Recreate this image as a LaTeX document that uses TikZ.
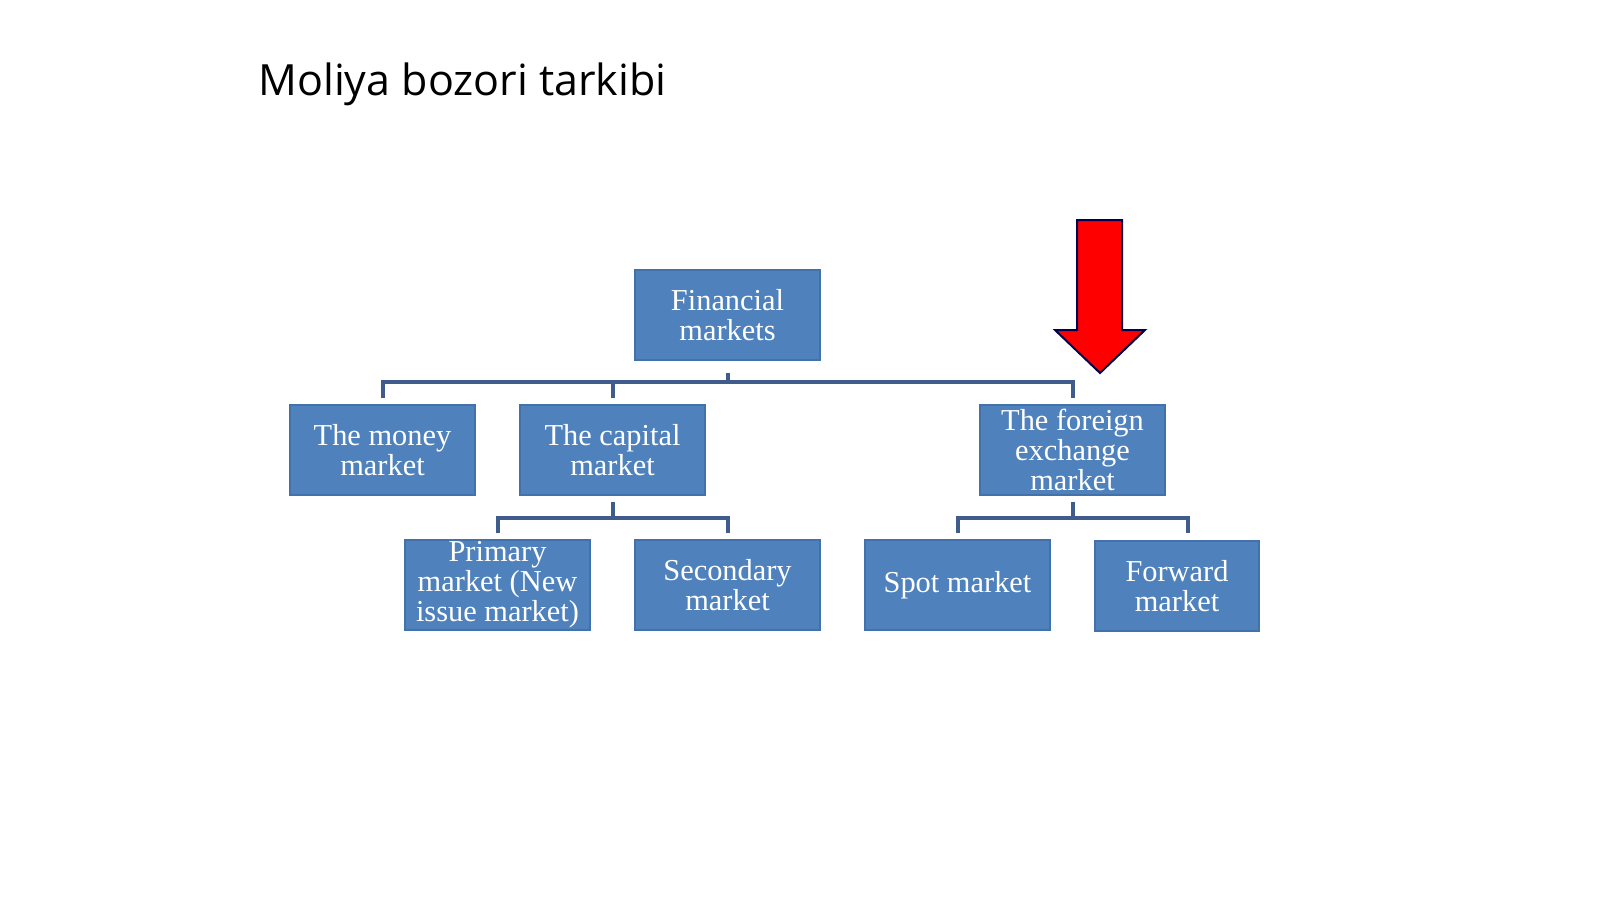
\documentclass[tikz,border=0pt]{standalone}
\usepackage{fontspec}
\setmainfont{Liberation Serif}
\newfontfamily\titlefont{Open Sans}
\begin{document}
\begin{tikzpicture}[x=0.5pt,y=-0.5pt,
  box/.style={draw=boxedge,line width=0.6pt,fill=boxblue,text=white,minimum width=92.5pt,minimum height=45pt,inner sep=0pt,align=center,font=\fontsize{15.2}{15}\selectfont},
  conn/.style={draw=linecol,line width=2pt}]
\definecolor{boxblue}{HTML}{4F81BD}
\definecolor{boxedge}{HTML}{4372AA}
\definecolor{linecol}{HTML}{3F5C8C}
\definecolor{arrowred}{HTML}{FF0000}
\useasboundingbox (0,0) rectangle (1600,899);
\fill[white] (0,0) rectangle (1600,899);
\node[anchor=base west,inner sep=0pt,font=\titlefont\fontsize{21.5}{26}\selectfont] (title) at (258,96) {Moliya bozori tarkibi};
\node[box] (fin) at (727.5,315) {Financial\\markets};
\node[box] (money) at (382.5,450) {The money\\market};
\node[box] (cap) at (612.5,450) {The capital\\market};
\node[box] (fx) at (1072.5,450) {The foreign\\exchange\\market};
\node[box] (prim) at (497.5,585) {Primary\\market (New\\issue market)};
\node[box] (sec) at (727.5,585) {Secondary\\market};
\node[box] (spot) at (957.5,585) {Spot market};
\node[box,minimum width=82pt] (fwd) at (1177,586) {Forward\\market};
% connectors level 1
\coordinate (b1) at (727.5,382);
\draw[conn] ([yshift=-6pt]fin.south) -- (b1);
\draw[conn] ([yshift=3pt]money.north) |- (b1) -| ([yshift=3pt]fx.north);
\draw[conn] ([yshift=3pt]cap.north) -- (cap.north |- b1);
% connectors level 2
\coordinate (b2) at (612.5,518);
\draw[conn] ([yshift=-3pt]cap.south) -- (b2);
\draw[conn] ([yshift=3pt]prim.north) |- (b2) -| ([yshift=3pt]sec.north);
\coordinate (b3) at (1072.5,518);
\draw[conn] ([yshift=-3pt]fx.south) -- (b3);
\coordinate (fwdtop) at (1188,533);
\draw[conn] ([yshift=3pt]spot.north) |- (b3) -| (fwdtop);
% red arrow
\draw[draw=black!70!blue,line width=1pt,fill=arrowred,line join=miter]
  (1077,220) -- (1122,220) -- (1122,330) -- (1145,330) -- (1100,373) -- (1055,330) -- (1077,330) -- cycle;
\end{tikzpicture}
\end{document}
